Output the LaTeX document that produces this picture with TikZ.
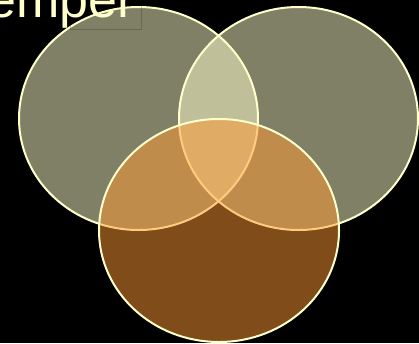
\documentclass[tikz,border=0pt]{standalone}
\usepackage{fontspec}
\setmainfont{Liberation Sans}
\definecolor{pale}{HTML}{FFFFCC}
\definecolor{amber}{HTML}{FF9933}
\begin{document}
\begin{tikzpicture}[x=1pt,y=-1pt,
  setpale/.style={fill=pale,fill opacity=0.5,draw=pale,draw opacity=1,line width=2pt},
  setamber/.style={fill=amber,fill opacity=0.5,draw=pale,draw opacity=1,line width=2pt},
  boxline/.style={draw=black,draw opacity=0.18,line width=1pt}]
\fill[black] (0,0) rectangle (419,343);
\useasboundingbox (0,0) rectangle (419,343);
\path[setpale] (138.5,118.5) ellipse [x radius=119.5, y radius=111.5];
\path[setpale] (298.5,118.5) ellipse [x radius=119.5, y radius=111.5];
\path[setamber] (219,230.5) ellipse [x radius=120, y radius=111.5];
\path[boxline] (70,-20) -- (70,29) -- (141.5,29) -- (141.5,-20);
\node[anchor=base west,inner sep=0pt,text=pale,font=\fontsize{52}{52}\selectfont] (title) at (-13,17) {emper};
\end{tikzpicture}
\end{document}
